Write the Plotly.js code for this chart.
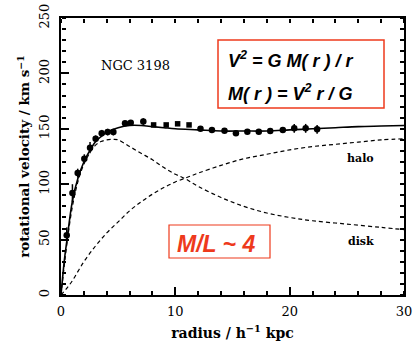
<!DOCTYPE html>
<html>
<head>
<meta charset="utf-8">
<script src="https://cdn.plot.ly/plotly-3.0.1.min.js"></script>
<style>html,body{margin:0;padding:0;background:#fff;}#chart{width:413px;height:350px;}</style>
</head>
<body>
<div id="chart"></div>
<script>
// Observed rotation curve (circles)
const obsX = [0.5, 1.0, 1.46, 2.04, 2.54, 3.03, 3.56, 4.08, 4.58, 5.6, 6.1, 7.2, 12.2, 13.2, 14.3, 15.3, 16.3, 17.3, 18.3, 19.4, 20.4, 21.4, 22.4];
const obsY = [54, 92, 110, 123, 133, 141, 146, 147, 147, 155, 155.5, 156.5, 150, 149, 148.3, 146, 147.4, 147.4, 148, 149, 150.4, 150.4, 149.5];
const obsErr = [7, 8, 4, 4, 5, 3, 3, 3, 3, 2, 2, 3, 2, 2, 2, 2, 2, 2, 2, 2, 4, 4, 4];
// Observed points (squares)
const sqX = [8.1, 9.2, 10.2, 11.2];
const sqY = [153.5, 153.5, 154.5, 153.5];
// Model curves
const totX = [0, 0.3, 0.5, 1, 1.5, 2, 2.5, 3, 3.5, 4, 5, 6, 7, 8, 9, 10, 12, 14, 16, 18, 20, 22, 24, 26, 28, 30];
const totY = [0, 32, 48, 85, 106, 120, 130, 138, 143, 147, 151, 153, 153, 152, 151, 150, 149, 148, 148, 148, 149, 150, 151, 152, 152.5, 153];
const diskX = [0, 0.5, 1, 1.5, 2, 2.5, 3, 3.5, 4, 4.6, 5, 6, 7, 8, 9, 10, 10.85, 12, 14, 16, 18, 20, 22, 25, 28, 30];
const diskY = [0, 45, 80, 103, 118, 128, 135, 138.5, 140, 140.5, 140, 134, 128, 122, 115, 109, 105, 98, 88, 80, 74, 70, 67, 64, 61, 59];
const haloX = [0, 0.5, 1, 2, 3, 4, 5, 6, 7, 8, 9, 10, 11, 12, 14, 16, 18, 20, 22, 24, 26, 28, 30];
const haloY = [0, 6, 13, 30, 44, 56, 66, 76, 84, 91, 97, 102, 106, 110, 117, 123, 127, 131, 134, 136, 138, 140, 141];

const serif = 'DejaVu Serif, serif';
const sans = 'Liberation Sans, Arial, sans-serif';
const red = '#ee3a1c';
const xRange = [0, 30], yRange = [0, 250];

const traces = [
  {x: diskX, y: diskY, mode: 'lines', line: {color: '#000', width: 1.2, dash: '4px,3px', shape: 'spline'}, hoverinfo: 'skip'},
  {x: haloX, y: haloY, mode: 'lines', line: {color: '#000', width: 1.2, dash: '4px,3px', shape: 'spline'}, hoverinfo: 'skip'},
  {x: totX, y: totY, mode: 'lines', line: {color: '#000', width: 1.6, shape: 'spline'}, hoverinfo: 'skip'},
  {x: obsX, y: obsY, mode: 'markers', marker: {symbol: 'circle', size: 6.5, color: '#000'},
   error_y: {type: 'data', array: obsErr, visible: true, color: '#000', thickness: 1.5, width: 0}},
  {x: sqX, y: sqY, mode: 'markers', marker: {symbol: 'square', size: 5.5, color: '#000'}}
];
// invisible traces anchoring the minor-tick overlay axes
for (let i = 2; i <= 3; i++) {
  traces.push({x: [xRange[0]], y: [yRange[0]], xaxis: 'x' + i, yaxis: 'y' + i, mode: 'markers', marker: {opacity: 0}, hoverinfo: 'skip'});
}

const axisCommon = {
  showgrid: false, zeroline: false, showline: true, linecolor: '#000', linewidth: 1.5,
  mirror: true, ticks: 'inside', ticklen: 8, tickwidth: 2, tickcolor: '#000',
  tickfont: {family: serif, size: 13, color: '#000'}
};
// minor tick-only axes placed on the frame, with outward ticks pointing into the plot
function tickAxis(over, side, pos, dtick, len, range) {
  return {overlaying: over, anchor: 'free', side: side, position: pos, range: range, dtick: dtick, tick0: 0,
    showgrid: false, zeroline: false, showline: false, showticklabels: false,
    ticks: 'outside', ticklen: len, tickwidth: 1.5, tickcolor: '#000'};
}

const layout = {
  width: 413, height: 350,
  margin: {l: 61, r: 9, t: 18, b: 55},
  showlegend: false,
  xaxis: Object.assign({}, axisCommon, {
    range: xRange, dtick: 10, tick0: 0, ticklabelstandoff: 4,
    title: {text: '<b>radius / h<sup>\u22121</sup> kpc</b>', font: {family: serif, size: 14, color: '#000'}, standoff: 10}
  }),
  yaxis: Object.assign({}, axisCommon, {
    range: yRange, dtick: 50, tick0: 0, tickangle: -90, ticklabelstandoff: 5,
    title: {text: '<b>rotational velocity / km s<sup>\u22121</sup></b>', font: {family: serif, size: 13.5, color: '#000'}, standoff: 4}
  }),
  xaxis2: tickAxis('x', 'top', 0, 2, 4, xRange),
  xaxis3: tickAxis('x', 'bottom', 1, 2, 4, xRange),
  yaxis2: tickAxis('y', 'right', 0, 10, 4, yRange),
  yaxis3: tickAxis('y', 'left', 1, 10, 4, yRange),
  shapes: [
    {type: 'rect', xref: 'paper', yref: 'paper', x0: (218 - 61) / 343, x1: (384 - 61) / 343, y0: (295 - 108) / 277, y1: (295 - 40) / 277,
     line: {color: red, width: 1.5}, fillcolor: 'rgba(0,0,0,0)'},
    {type: 'rect', xref: 'paper', yref: 'paper', x0: (169 - 61) / 343, x1: (270 - 61) / 343, y0: (295 - 258) / 277, y1: (295 - 225) / 277,
     line: {color: red, width: 1.2}, fillcolor: 'rgba(0,0,0,0)'}
  ],
  annotations: [
    {text: 'NGC 3198', x: 6.5, y: 207, xref: 'x', yref: 'y', showarrow: false, font: {family: serif, size: 13, color: '#000'}},
    {text: '<b>halo</b>', x: 26.2, y: 123, xref: 'x', yref: 'y', showarrow: false, font: {family: serif, size: 11, color: '#000'}},
    {text: '<b>disk</b>', x: 26.2, y: 48, xref: 'x', yref: 'y', showarrow: false, font: {family: serif, size: 11, color: '#000'}},
    {text: '<b><i>V<sup>2</sup> = G M( r ) / r</i></b>', x: 226, y: 59, xref: 'paper', yref: 'paper', xanchor: 'left', yanchor: 'middle', showarrow: false,
     font: {family: sans, size: 18, color: '#000'}},
    {text: '<b><i>M( r ) = V<sup>2</sup> r / G</i></b>', x: 226, y: 92, xref: 'paper', yref: 'paper', xanchor: 'left', yanchor: 'middle', showarrow: false,
     font: {family: sans, size: 18, color: '#000'}},
    {text: '<b><i>M/L ~ 4</i></b>', x: 216, y: 244, xref: 'paper', yref: 'paper', xanchor: 'center', yanchor: 'middle', showarrow: false,
     font: {family: sans, size: 23, color: red}}
  ]
};
layout.annotations.forEach(a => {
  if (a.xref === 'paper') { a.x = (a.x - 61) / 343; a.y = (295 - a.y) / 277; }
});

Plotly.newPlot('chart', traces, layout, {displayModeBar: false});
</script>
</body>
</html>
